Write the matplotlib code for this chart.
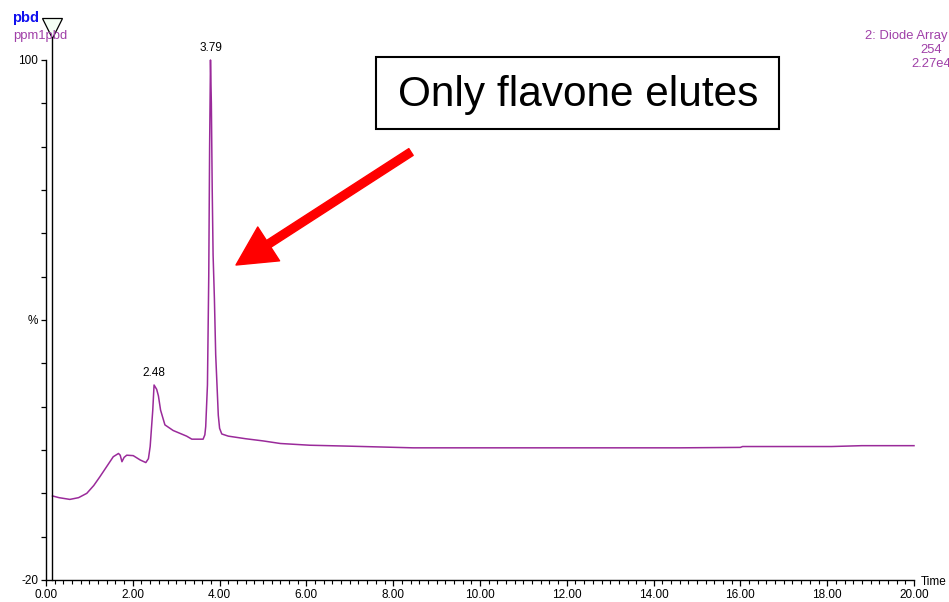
import matplotlib
matplotlib.use("Agg")
import matplotlib.pyplot as plt
from matplotlib.ticker import MultipleLocator, FixedLocator
from matplotlib.patches import Rectangle

plt.rcParams['font.family'] = ['Liberation Sans', 'DejaVu Sans']

# ---- data ----
time_min = [0.15, 0.30, 0.55, 0.75, 0.94, 1.10, 1.24, 1.40, 1.55, 1.67, 1.71, 1.75,
            1.80, 1.86, 2.01, 2.17, 2.30, 2.36, 2.40, 2.46, 2.49, 2.55, 2.59, 2.64,
            2.74, 2.93, 3.24, 3.36, 3.62, 3.66, 3.68, 3.72, 3.75, 3.77, 3.79, 3.81,
            3.83, 3.85, 3.88, 3.91, 3.94, 3.97, 4.00, 4.05, 4.20, 4.60, 5.00, 5.40,
            6.08, 6.93, 8.46, 10.0, 12.0, 14.6, 16.0, 16.05, 18.1, 18.8, 20.0]
intensity = [-0.6, -1.0, -1.4, -1.0, 0.0, 1.8, 3.8, 6.2, 8.45, 9.2, 8.8, 7.3,
             8.3, 8.8, 8.7, 7.7, 7.1, 8.0, 10.8, 19.2, 25.0, 24.0, 22.5, 19.2,
             15.8, 14.5, 13.2, 12.5, 12.5, 13.5, 15.4, 25.0, 50.0, 80.0, 100.0, 90.0,
             70.0, 55.0, 45.0, 32.0, 25.0, 18.0, 15.0, 13.7, 13.2, 12.6, 12.1, 11.5,
             11.1, 10.9, 10.5, 10.5, 10.5, 10.5, 10.6, 10.8, 10.8, 11.0, 11.0]
peak_times = [2.48, 3.79]
peak_values = [25.0, 100.0]
peak_labels = ["2.48", "3.79"]
x_tick_values = [0, 2, 4, 6, 8, 10, 12, 14, 16, 18, 20]
y_tick_values = list(range(-20, 101, 10))
y_tick_labels = {100: "100", 40: "%", -20: "-20"}
marker_time = 0.14

W, H = 949, 602
fig = plt.figure(figsize=(W / 100, H / 100), dpi=100)

def fx(x):
    return x / W

def fy(y):
    return 1 - y / H

ax = fig.add_axes([fx(46), fy(580), fx(914) - fx(46), fy(60) - fy(580)])
ax.set_xlim(0, 20)
ax.set_ylim(-20, 100)

line_color = '#9A2A9A'
ax.plot(time_min, intensity, color=line_color, lw=1.1, clip_on=False)

# marker line and triangle
ax.plot([marker_time, marker_time], [-20, 106.5], color='black', lw=1.0, clip_on=False)
ax.plot([marker_time], [107.3], marker='v', markersize=15, markerfacecolor='#f4fff4',
        markeredgecolor='black', markeredgewidth=0.9, clip_on=False)

for t, v, lab in zip(peak_times, peak_values, peak_labels):
    ax.annotate(lab, (t, v), xytext=(0, 4), textcoords='offset points',
                ha='center', va='bottom', fontsize=8.5, color='black', annotation_clip=False)

for s in ['top', 'right']:
    ax.spines[s].set_visible(False)
ax.spines['left'].set_linewidth(1.0)
ax.spines['bottom'].set_linewidth(1.0)

ax.xaxis.set_major_locator(FixedLocator(x_tick_values))
ax.set_xticklabels([f"{v:.2f}" for v in x_tick_values], fontsize=8.5)
ax.xaxis.set_minor_locator(MultipleLocator(0.2))
ax.tick_params(axis='x', which='major', length=4.5, width=0.9, pad=2)
ax.tick_params(axis='x', which='minor', length=3, width=0.8)

ax.set_yticks(y_tick_values)
ax.set_yticklabels([y_tick_labels.get(v, "") for v in y_tick_values], fontsize=8.5)
ax.tick_params(axis='y', which='major', length=3.5, width=0.9, pad=2)

fig.text(fx(921), fy(582), "Time", fontsize=8.5, ha='left', va='center')

# header texts
hdr = '#a040a8'
fig.text(fx(12), fy(18), "pbd", fontsize=10.5, fontweight='bold', color='#1010ee',
         ha='left', va='center')
fig.text(fx(13), fy(36), "ppm1pbd", fontsize=9.4, color=hdr, ha='left', va='center')
fig.text(fx(865), fy(36), "2: Diode Array", fontsize=9.4, color=hdr, ha='left', va='center')
fig.text(fx(920), fy(50), "254", fontsize=9.4, color=hdr, ha='left', va='center')
fig.text(fx(911), fy(64), "2.27e4", fontsize=9.4, color=hdr, ha='left', va='center')

# callout box
box = Rectangle((fx(376), fy(129)), fx(779) - fx(376), fy(57) - fy(129),
                transform=fig.transFigure, fill=False, edgecolor='black', lw=1.5)
fig.add_artist(box)
fig.text(fx(578), fy(95), "Only flavone elutes", fontsize=30.5, ha='center', va='center',
         color='black')

# red arrow
ax.annotate("", xy=(236, H - 265), xycoords='figure pixels',
            xytext=(411, H - 152), textcoords='figure pixels',
            arrowprops=dict(arrowstyle="simple,tail_width=0.58,head_width=2.9,head_length=2.8",
                            mutation_scale=10, color='#ff0000', shrinkA=0, shrinkB=0))

fig.savefig("out.png", dpi=100)
